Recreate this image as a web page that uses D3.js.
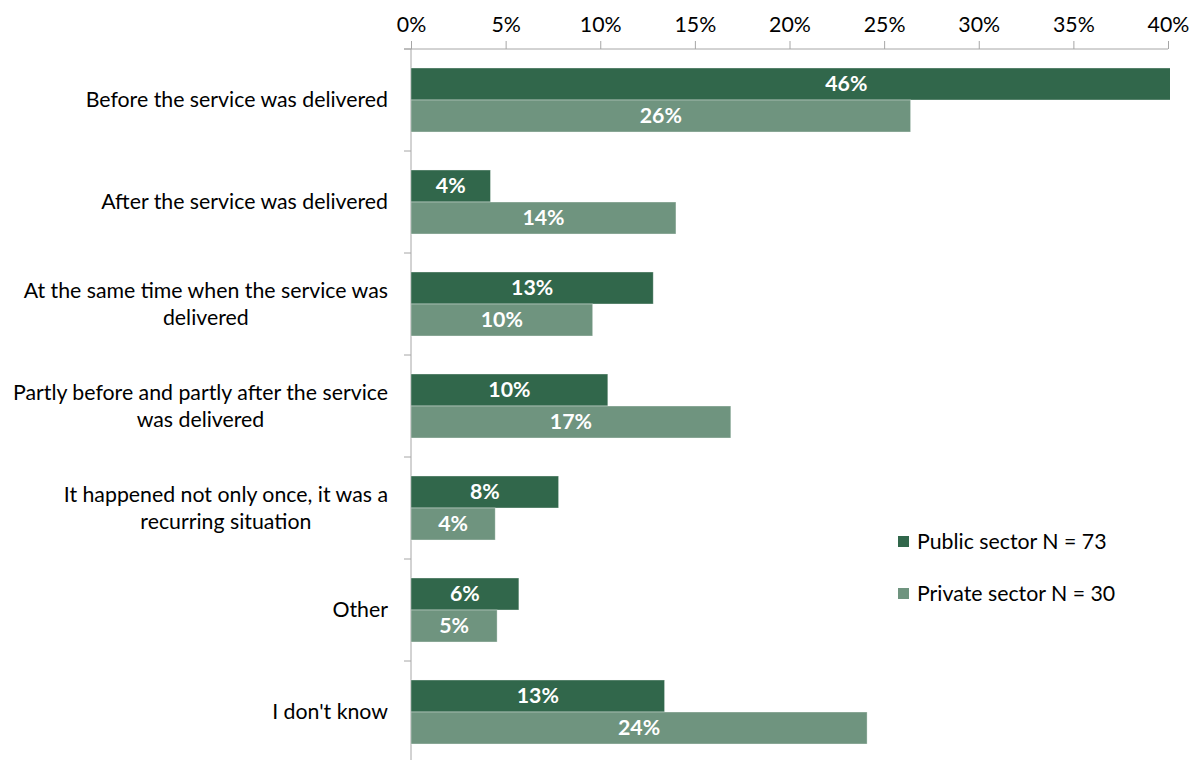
<!DOCTYPE html>
<html>
<head>
<meta charset="utf-8">
<script src="https://cdn.jsdelivr.net/npm/d3@7/dist/d3.min.js"></script>
<style>
  html, body { margin: 0; padding: 0; background: #fff; }
  svg { display: block; font-family: Lato, "Open Sans", sans-serif; }
</style>
</head>
<body>
<svg id="chart" width="1203" height="760"></svg>
<script>
// Timing of the incident relative to service delivery, by sector
const categories = [
  ["Before the service was delivered"],
  ["After the service was delivered"],
  ["At the same time when the service was", "delivered"],
  ["Partly before and partly after the service", "was delivered"],
  ["It happened not only once, it was a", "recurring situation"],
  ["Other"],
  ["I don't know"]
];
const seriesNames = ["Public sector N = 73", "Private sector N = 30"];
const publicValues  = [46, 4.2, 12.8, 10.4, 7.8, 5.7, 13.4];
const privateValues = [26.4, 14.0, 9.6, 16.9, 4.45, 4.55, 24.1];
const seriesColors = ["#31674b", "#6f947f"];
const xTicks = [0, 5, 10, 15, 20, 25, 30, 35, 40];

const svg = d3.select("#chart");
const plotLeft = 411, plotRight = 1168, plotTop = 49, plotBottom = 763;
const fontSize = 21.3;

const x = d3.scaleLinear().domain([0, 40]).range([plotLeft, plotRight]);
const catKeys = categories.map((c, i) => i);
const y = d3.scaleBand().domain(catKeys).range([plotTop, plotBottom])
  .paddingInner(0.3725).paddingOuter(0.18625);
const ySub = d3.scaleBand().domain([0, 1]).range([0, y.bandwidth()]);

// Clip region for bars that run past the axis maximum
svg.append("defs").append("clipPath").attr("id", "plotClip")
  .append("rect").attr("x", plotLeft).attr("y", plotTop)
  .attr("width", plotRight - plotLeft + 2).attr("height", plotBottom - plotTop);

// Top value axis
const xAxis = d3.axisTop(x).tickValues(xTicks).tickFormat(d => d + "%")
  .tickSize(8).tickSizeOuter(0).tickPadding(9);
const gx = svg.append("g").attr("transform", `translate(0,${plotTop})`).call(xAxis);
gx.select(".domain").attr("stroke", "#a6a6a6").attr("d", `M${plotLeft - 7},0H${plotRight}`);
gx.selectAll(".tick line").attr("stroke", "#a6a6a6");
gx.selectAll(".tick text").attr("fill", "#000").style("font-size", fontSize + "px")
  .style("font-family", "Lato, 'Open Sans', sans-serif");

// Category axis line with boundary ticks
const gy = svg.append("g");
gy.append("line").attr("x1", plotLeft).attr("x2", plotLeft)
  .attr("y1", plotTop).attr("y2", plotBottom).attr("stroke", "#a6a6a6");
gy.selectAll("line.boundary").data(d3.range(categories.length + 1)).join("line")
  .attr("class", "boundary")
  .attr("x1", plotLeft - 7).attr("x2", plotLeft)
  .attr("y1", i => plotTop + i * y.step()).attr("y2", i => plotTop + i * y.step())
  .attr("stroke", "#a6a6a6");

// Category labels: wrapped lines centred on each other, block right-aligned
const labelRight = 388;
const lineH = 27;
categories.forEach((lines, i) => {
  const cy = y(i) + y.bandwidth() / 2;
  const g = svg.append("g");
  const texts = lines.map((ln, j) => g.append("text")
    .attr("y", cy + (j - (lines.length - 1) / 2) * lineH)
    .attr("dy", "0.35em")
    .attr("text-anchor", "middle")
    .style("font-size", fontSize + "px")
    .attr("fill", "#000")
    .text(ln));
  const maxW = d3.max(texts, t => t.node().getComputedTextLength());
  texts.forEach(t => t.attr("x", labelRight - maxW / 2));
});

// Bars
const rows = catKeys.map(i => [publicValues[i], privateValues[i]]);
const barsG = svg.append("g").attr("clip-path", "url(#plotClip)");
rows.forEach((vals, i) => {
  vals.forEach((v, s) => {
    barsG.append("rect")
      .attr("x", x(0))
      .attr("y", y(i) + ySub(s))
      .attr("width", x(v) - x(0))
      .attr("height", ySub.bandwidth())
      .attr("fill", seriesColors[s])
      .attr("stroke", "rgba(255,255,255,0.45)")
      .attr("stroke-width", 0.8);
  });
});

// Value labels, centred on the full bar length
rows.forEach((vals, i) => {
  vals.forEach((v, s) => {
    svg.append("text")
      .attr("x", x(v / 2))
      .attr("y", y(i) + ySub(s) + ySub.bandwidth() / 2)
      .attr("dy", "0.35em")
      .attr("text-anchor", "middle")
      .attr("fill", "#fff")
      .style("font-size", fontSize + "px")
      .style("font-weight", "bold")
      .text(Math.round(v) + "%");
  });
});

// Legend
const legend = svg.append("g").attr("transform", "translate(898,536)");
seriesNames.forEach((name, s) => {
  const g = legend.append("g").attr("transform", `translate(0,${s * 52})`);
  g.append("rect").attr("width", 11).attr("height", 11).attr("fill", seriesColors[s]);
  g.append("text").attr("x", 19).attr("y", 5.5).attr("dy", "0.35em")
    .style("font-size", fontSize + "px").attr("fill", "#000").text(name);
});
</script>
</body>
</html>
